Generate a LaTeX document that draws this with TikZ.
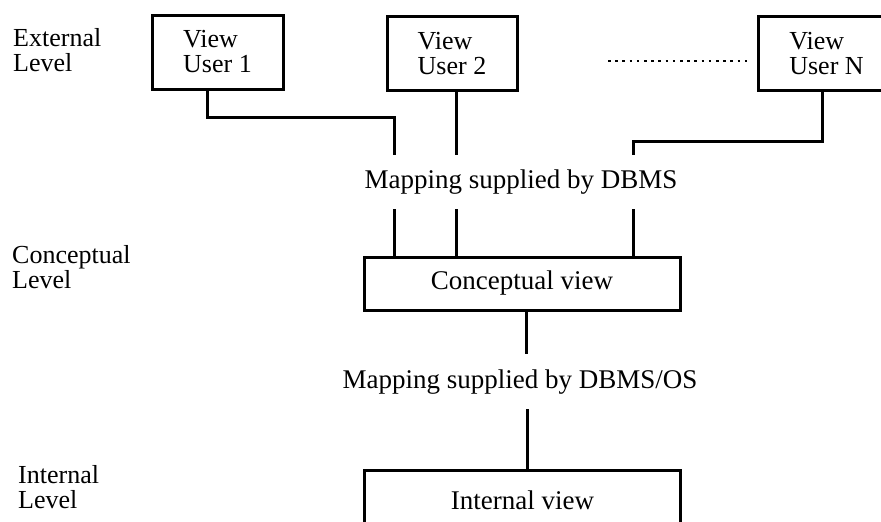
\documentclass[tikz,border=0pt]{standalone}
\usepackage{fontspec}
\setmainfont{Liberation Serif}
\usetikzlibrary{calc}

\tikzset{
  wire/.style={line width=3pt, line cap=rect},
  frame/.style={draw, line width=3pt, inner sep=0pt},
  viewbox/.style={frame, minimum height=74pt, align=left,
    inner xsep=0pt, inner ysep=0pt,
    font=\fontsize{26}{25}\selectfont},
  levelname/.style={anchor=north west, inner sep=0pt, align=left,
    font=\fontsize{26}{25}\selectfont},
  caption/.style={inner sep=0pt, font=\fontsize{27}{30}\selectfont},
  bigbox/.style={frame, minimum width=316pt, minimum height=#1,
    font=\fontsize{27}{30}\selectfont},
}

\begin{document}
\begin{tikzpicture}[x=1pt, y=-1pt]
  \useasboundingbox (0,0) rectangle (881,522);
  \clip (0,0) rectangle (881,522);

  % level labels down the left margin
  \node[levelname] (ext) at (13,28)  {External\\Level};
  \node[levelname] (con) at (12,245) {Conceptual\\Level};
  \node[levelname] (int) at (18,465) {Internal\\Level};

  % external views
  \node[viewbox, minimum width=131pt] (u1) at (217.5,52) {View\\User 1};
  \node[viewbox, minimum width=130pt] (u2) at (452,53.5) {View\\User 2};
  \node[viewbox, minimum width=137pt] (un) at (826.5,53.5) {View\\User N};

  % ellipsis between User 2 and User N
  \coordinate (dots) at (608,61);
  \draw[line width=2.6pt, dash pattern=on 2.6pt off 4.6pt, shorten >=6pt]
    (dots) -- (dots -| un.west);

  % first mapping layer
  \node[caption] (m1) at (521,182) {Mapping supplied by DBMS};

  \coordinate (k1) at (394,117);
  \coordinate (d1) at (394,153);
  \coordinate (d2) at (456,153);
  \coordinate (kn) at (633,141);
  \coordinate (dn) at (633,153);

  \draw[wire] ([xshift=-10.5pt]u1.south) |- (k1) -- (d1);
  \draw[wire] ([xshift=4pt]u2.south) -- (d2);
  \draw[wire] ([xshift=-4.5pt]un.south) |- (kn) -- (dn);

  % conceptual view
  \node[bigbox=53pt] (cv) at (522,283.5) {Conceptual view};

  \coordinate (e1) at (394,210);
  \coordinate (e2) at (456,210);
  \coordinate (en) at (633,210);
  \draw[wire] (e1) -- (e1 |- cv.north);
  \draw[wire] (e2) -- (e2 |- cv.north);
  \draw[wire] (en) -- (en |- cv.north);

  % second mapping layer
  \node[caption] (m2) at (520,382) {Mapping supplied by DBMS/OS};

  \coordinate (c1) at (526,352);
  \draw[wire] (c1 |- cv.south) -- (c1);

  % internal view
  \node[bigbox=60pt] (iv) at (522.5,500) {Internal view};

  \coordinate (f1) at (527,410);
  \draw[wire] (f1) -- (f1 |- iv.north);
\end{tikzpicture}
\end{document}
